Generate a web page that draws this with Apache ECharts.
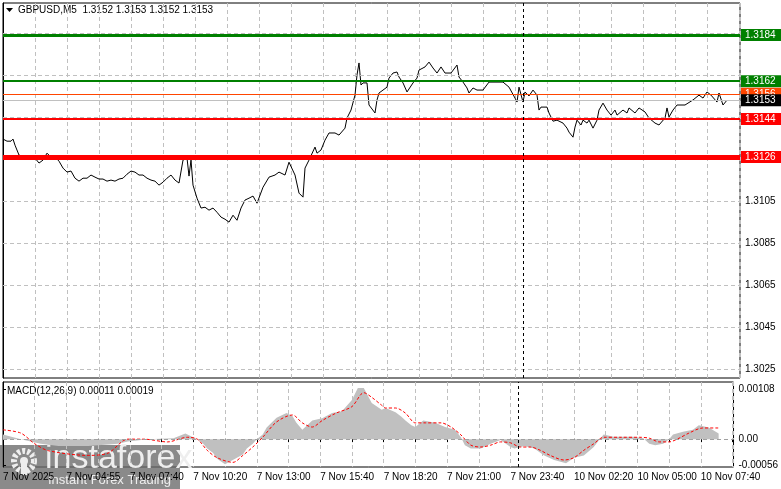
<!DOCTYPE html>
<html><head><meta charset="utf-8">
<script src="https://cdn.jsdelivr.net/npm/echarts@6/dist/echarts.min.js"></script>
<style>html,body{margin:0;padding:0;background:#fff}#c{width:781px;height:489px}</style>
</head><body><div id="c"></div>
<script>
// price closes, sampled (bar index of M5 bars, close)
const priceIdx = [0,2,4,5,6,8,10,12,14,16,18,20,22,24,26,28,30,32,34,36,38,40,42,44,46,48,50,52,54,56,58,60,62,64,66,68,70,72,74,76,78,80,82,84,86,88,90,92,93,94,95,97,99,101,103,105,107,109,111,113,115,117,119,121,123,125,127,130,133,136,138,141,143,146,148,150,151,153,156,157,159,161,163,166,168,171,172,174,176,177,178,179,180,182,183,186,187,188,190,192,193,195,197,198,200,202,203,205,207,208,211,213,215,217,219,221,222,224,227,228,230,232,233,235,237,240,243,247,250,253,256,257,258,260,261,263,265,267,268,269,272,273,275,277,280,282,283,285,286,287,289,290,292,293,295,297,298,300,302,304,306,307,310,312,313,316,318,321,323,326,328,331,332,333,335,337,339,341,345,348,350,352,354,357,358,360,362];
const priceVal = [1.31345,1.31335,1.31335,1.31345,1.31316,1.31269,1.31259,1.31255,1.3125,1.31255,1.31231,1.31245,1.31278,1.31259,1.31259,1.3124,1.31207,1.31188,1.31193,1.31159,1.31145,1.31159,1.31159,1.31174,1.31164,1.31155,1.31155,1.31145,1.3115,1.31145,1.31155,1.31159,1.31178,1.31193,1.31188,1.31174,1.31174,1.31159,1.3115,1.31145,1.31126,1.3114,1.31159,1.31174,1.3115,1.31136,1.31245,1.31255,1.31169,1.31245,1.31126,1.31064,1.31017,1.31021,1.31007,1.31017,1.30997,1.30974,1.30964,1.3095,1.30983,1.30959,1.31017,1.31055,1.31064,1.31074,1.3104,1.31116,1.31164,1.31174,1.31188,1.31174,1.31235,1.31174,1.31088,1.31069,1.31207,1.31245,1.31307,1.31278,1.31293,1.3134,1.31374,1.31374,1.31364,1.31397,1.31445,1.31483,1.31554,1.3165,1.31707,1.31602,1.31612,1.31612,1.31507,1.31469,1.31531,1.31564,1.31578,1.31592,1.31635,1.31659,1.31664,1.3164,1.31612,1.31569,1.31564,1.31612,1.31635,1.31673,1.31688,1.31711,1.31683,1.31659,1.31688,1.31659,1.31664,1.31659,1.31697,1.3164,1.31616,1.31588,1.31564,1.31588,1.31578,1.31578,1.31616,1.31616,1.31616,1.31592,1.3154,1.31521,1.31592,1.31521,1.31569,1.3155,1.31578,1.31554,1.31483,1.31497,1.31497,1.31469,1.3143,1.31435,1.31421,1.31397,1.31378,1.31354,1.31402,1.31435,1.31412,1.31435,1.31421,1.31435,1.31397,1.31435,1.31483,1.31516,1.31483,1.31459,1.31483,1.31459,1.31483,1.31469,1.31493,1.31469,1.31493,1.31474,1.31445,1.31421,1.31412,1.31445,1.31493,1.3145,1.31483,1.31507,1.31507,1.31507,1.31531,1.31554,1.3154,1.31569,1.31554,1.31521,1.31564,1.31507,1.3153];
// MACD histogram
const histIdx = [0,9,19,28,43,58,63,73,86,92,98,101,103,106,108,112,118,121,123,126,128,131,133,138,143,146,148,151,156,161,166,171,176,179,182,186,191,193,198,201,203,206,208,212,218,223,228,231,233,236,241,246,251,256,258,263,268,273,278,284,288,293,298,301,303,308,318,323,326,329,333,336,338,343,348,351,356,361];
const histVal = [0.0001,0,-0.0001,-0.00015,-0.00015,-0.0001,-0.00005,0,0.00002,0.00012,0,-0.0001,-0.0002,-0.0003,-0.00042,-0.00054,-0.0004,-0.00033,-0.0002,-0.0001,0,0.0001,0.00025,0.00046,0.00056,0.0005,0.00035,0.0002,0.0004,0.00045,0.00056,0.0006,0.00084,0.0011,0.0011,0.00078,0.00063,0.00067,0.00058,0.00048,0.0004,0.0003,0.00026,0.0004,0.00035,0.00026,0.0002,0.00004,-0.00013,-0.0002,-0.0002,-0.0001,-0.00002,-0.00017,-0.0002,-0.00015,-0.0002,-0.00035,-0.00045,-0.00052,-0.0004,-0.00035,-0.00017,0,0.0001,0.00005,0.00005,0.00002,-0.0001,-0.00013,-0.0001,0,0.0001,0.00016,0.0002,0.0003,0.00025,0.00012];
// MACD signal
const sigIdx = [0,9,16,23,43,53,63,71,83,93,98,103,108,116,121,126,131,138,146,151,156,161,168,176,182,186,191,193,198,203,208,213,221,226,231,236,241,246,251,256,261,266,271,276,283,288,293,298,303,311,321,326,331,336,341,346,353,361];
const sigVal = [0.0002,0.00013,-0.0001,-0.00025,-0.00035,-0.0003,0,0,-0.00006,0.00004,0,-0.00024,-0.0004,-0.0005,-0.00035,-0.00017,0.00004,0.00037,0.00052,0.00035,0.00026,0.0004,0.00056,0.0007,0.001,0.0009,0.00073,0.00067,0.00067,0.00056,0.00035,0.00035,0.00035,0.00026,0.00009,-0.00013,-0.00017,-0.00013,-0.00006,-0.00008,-0.00017,-0.00017,-0.00024,-0.00035,-0.00045,-0.0004,-0.00024,-0.0001,0.00004,0.00004,0.00004,0.00002,-0.00006,-0.00006,0.00002,0.00013,0.00024,0.00024];
const timeLabels = {0:'7 Nov 2025',32:'7 Nov 04:55',64:'7 Nov 07:40',96:'7 Nov 10:20',128:'7 Nov 13:00',160:'7 Nov 15:40',192:'7 Nov 18:20',224:'7 Nov 21:00',256:'7 Nov 23:40',288:'10 Nov 02:20',320:'10 Nov 05:00',352:'10 Nov 07:40'};
const priceTicks = [1.3105,1.3085,1.3065,1.3045,1.3025];
const priceGrid = [1.3185,1.3165,1.3145,1.3125,1.3105,1.3085,1.3065,1.3045,1.3025];
const levels = [
  {v:1.3184,c:'#008000',w:3},{v:1.3162,c:'#008000',w:2},{v:1.3156,c:'#ff4500',w:1},
  {v:1.3153,c:'#c0c0c0',w:1,bg:'#000'},{v:1.3144,c:'#ff0000',w:2},{v:1.3126,c:'#ff0000',w:5}
];
const macdTicks = [0.00108,0,-0.00056];
const sepIdx = 260;

const X0=0, X1=368.5, PMIN=1.30209, PMAX=1.31992, MMIN=-0.0006, MMAX=0.00123;
const zip=(a,b)=>a.map((x,i)=>[x,b[i]]);
const hl=(v,extra)=>[Object.assign({coord:[X0,v]},extra||{}),{coord:[X1,v]}];
const vl=(x,a,b,extra)=>[Object.assign({coord:[x,a]},extra||{}),{coord:[x,b]}];
const F='Liberation Sans, DejaVu Sans, sans-serif';
const chart = echarts.init(document.getElementById('c'));
const xBase = {type:'value',min:X0,max:X1,interval:16,
  splitLine:{show:true,lineStyle:{color:'#c0c0c0',type:[4,3]}},
  axisLine:{show:false},axisTick:{show:false},axisLabel:{show:false}};
chart.setOption({
  animation:false,backgroundColor:'#fff',
  grid:[{left:3,right:41,top:3,height:375,show:true,borderColor:'#000',borderWidth:1},
        {left:3,right:41,top:382,height:85,show:true,borderColor:'#000',borderWidth:1}],
  xAxis:[Object.assign({gridIndex:0},xBase),
    Object.assign({},xBase,{gridIndex:1,axisTick:{show:true,length:3,lineStyle:{color:'#000'}},
      axisLabel:{show:true,align:'left',margin:5,fontFamily:F,fontSize:10,color:'#000',
        formatter:v=>timeLabels[v]||''}})],
  yAxis:[{gridIndex:0,type:'value',position:'right',min:PMIN,max:PMAX,
      axisLine:{show:true,lineStyle:{color:'#000'}},splitLine:{show:false},
      axisTick:{show:true,length:3,customValues:priceTicks},
      axisLabel:{customValues:priceTicks,fontFamily:F,fontSize:10,color:'#000',margin:5,formatter:v=>v.toFixed(4)}},
    {gridIndex:1,type:'value',position:'right',min:MMIN,max:MMAX,
      axisLine:{show:true,lineStyle:{color:'#000'}},splitLine:{show:false},
      axisTick:{show:true,length:3,customValues:macdTicks},
      axisLabel:{customValues:macdTicks,fontFamily:F,fontSize:10,color:'#000',margin:5,formatter:v=>v===0?'0.00':v.toFixed(5)}}],
  series:[
    {type:'line',xAxisIndex:0,yAxisIndex:0,data:[],symbol:'none',silent:true,
      markLine:{silent:true,symbol:'none',animation:false,label:{show:false},
        lineStyle:{color:'#c0c0c0',type:[4,3],width:1},data:priceGrid.map(v=>hl(v))}},
    {type:'line',xAxisIndex:0,yAxisIndex:0,data:zip(priceIdx,priceVal),symbol:'none',
      lineStyle:{color:'#000',width:1},
      markLine:{silent:true,symbol:'none',animation:false,
        data:levels.map(l=>hl(l.v,{lineStyle:{color:l.c,width:l.w,type:'solid'},
          label:{show:true,position:'end',distance:1,formatter:l.v.toFixed(4),color:'#fff',fontFamily:F,fontSize:10,
            backgroundColor:l.bg||l.c,padding:[1,6,1,4]}}))
          .concat([vl(sepIdx,PMIN,PMAX,{lineStyle:{color:'#000',type:[3,3],width:1},label:{show:false}})])}},
    {type:'line',xAxisIndex:1,yAxisIndex:1,data:zip(histIdx,histVal),symbol:'none',
      lineStyle:{width:0},areaStyle:{color:'#c0c0c0',opacity:1,origin:0},
      markLine:{silent:true,symbol:'none',animation:false,label:{show:false},
        data:[hl(0,{lineStyle:{color:'#a0a0a0',type:[4,3],width:1}}),
              vl(sepIdx,MMIN,MMAX,{lineStyle:{color:'#000',type:[3,3],width:1}})]}},
    {type:'line',xAxisIndex:1,yAxisIndex:1,data:zip(sigIdx,sigVal),symbol:'none',smooth:0.3,
      lineStyle:{color:'#ff0000',width:1,type:[3,2]}}
  ],
  graphic:[
    {type:'polygon',shape:{points:[[6,8],[13,8],[9.5,12]]},style:{fill:'#000'}},
    {type:'text',left:18,top:5,style:{text:'GBPUSD,M5  1.3152 1.3153 1.3152 1.3153',font:'10px '+F,fill:'#000'}},
    {type:'text',left:7,top:386,style:{text:'MACD(12,26,9) 0.00011 0.00019',font:'10px '+F,fill:'#000'}},
    {type:'rect',shape:{x:0,y:445,width:180,height:44},style:{fill:'rgba(105,105,105,0.78)'}},
    {type:'circle',shape:{cx:24,cy:461,r:10},style:{fill:'none',stroke:'#eee',lineWidth:6,lineDash:[3,2]}},
    {type:'circle',shape:{cx:24,cy:461,r:4},style:{fill:'#eee'}},
    {type:'rect',shape:{x:21,y:461,width:6,height:14},style:{fill:'#eee'}},
    {type:'text',left:45,top:442,style:{text:'instaforex',font:'34px '+F,fill:'#eeeeee'}},
    {type:'text',left:48,top:474,style:{text:'Instant Forex Trading',font:'13px '+F,fill:'#eeeeee'}}
  ]
});
</script></body></html>
